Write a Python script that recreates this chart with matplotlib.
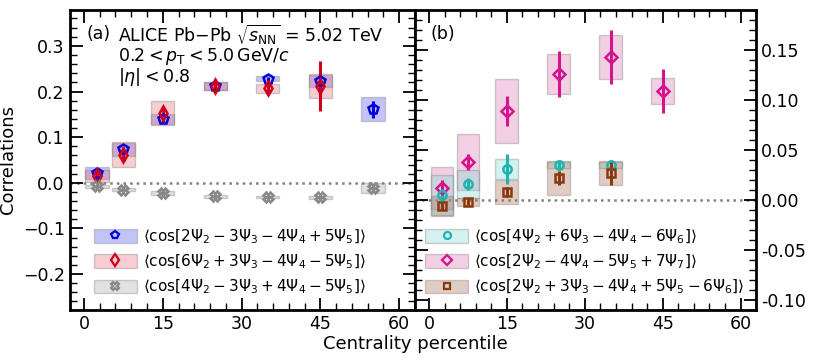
import matplotlib.pyplot as plt
from matplotlib.patches import Rectangle, Patch
from matplotlib.lines import Line2D
from matplotlib.ticker import MultipleLocator

# centrality bins (percentile)
cent_a = [2.5, 7.5, 15, 25, 35, 45, 55]
cent_b = [2.5, 7.5, 15, 25, 35, 45]

# panel (a)
blue_y = [0.022, 0.073, 0.139, 0.212, 0.228, 0.223, 0.161]
blue_stat = [0.006, 0.006, 0.005, 0.004, 0.004, 0.010, 0.018]
blue_sys = [0.013, 0.015, 0.011, 0.009, 0.005, 0.013, 0.026]

red_y = [0.015, 0.062, 0.153, 0.212, 0.207, 0.212]
red_stat = [0.013, 0.013, 0.010, 0.008, 0.011, 0.055]
red_sys = [0.013, 0.027, 0.027, 0.009, 0.010, 0.026]

gray_y = [-0.008, -0.015, -0.023, -0.030, -0.031, -0.032, -0.012]
gray_stat = [0.004, 0.004, 0.004, 0.004, 0.004, 0.004, 0.006]
gray_sys = [0.004, 0.004, 0.004, 0.003, 0.003, 0.003, 0.011]

# panel (b)
teal_y = [0.005, 0.016, 0.031, 0.035, 0.035]
teal_stat = [0.006, 0.006, 0.015, 0.005, 0.005]
teal_sys = [0.020, 0.014, 0.010, 0.003, 0.003]

mag_y = [0.012, 0.038, 0.089, 0.126, 0.143, 0.109]
mag_stat = [0.008, 0.008, 0.015, 0.023, 0.027, 0.022]
mag_sys = [0.021, 0.028, 0.032, 0.020, 0.022, 0.013]

brown_y = [-0.006, -0.002, 0.008, 0.022, 0.027]
brown_stat = [0.004, 0.004, 0.005, 0.007, 0.012]
brown_sys = [0.010, 0.004, 0.012, 0.017, 0.012]

labels_a = [r'$\langle\cos[2\Psi_2-3\Psi_3-4\Psi_4+5\Psi_5]\rangle$',
            r'$\langle\cos[6\Psi_2+3\Psi_3-4\Psi_4-5\Psi_5]\rangle$',
            r'$\langle\cos[4\Psi_2-3\Psi_3+4\Psi_4-5\Psi_5]\rangle$']
labels_b = [r'$\langle\cos[4\Psi_2+6\Psi_3-4\Psi_4-6\Psi_6]\rangle$',
            r'$\langle\cos[2\Psi_2-4\Psi_4-5\Psi_5+7\Psi_7]\rangle$',
            r'$\langle\cos[2\Psi_2+3\Psi_3-4\Psi_4+5\Psi_5-6\Psi_6]\rangle$']

BOX_W = 4.4


def draw(ax, x, y, stat, sys, color, boxcolor, marker, ms=7):
    for xi, yi, si in zip(x, y, sys):
        ax.add_patch(Rectangle((xi - BOX_W / 2, yi - si), BOX_W, 2 * si,
                               facecolor=boxcolor, alpha=0.35,
                               edgecolor='#777777', lw=1.0, zorder=2))
    ax.errorbar(x[:len(y)], y, yerr=stat, fmt=marker, color=color, mfc='none',
                mec=color, mew=1.8, ms=ms, elinewidth=2.2, capsize=0, zorder=4)
    h = (Patch(facecolor=boxcolor, alpha=0.35, edgecolor='#777777'),
         Line2D([], [], marker=marker, color=color, mfc='none', mew=1.6, ms=ms - 1, ls='none'))
    return h


def style(ax):
    for s in ax.spines.values():
        s.set_linewidth(2)
    ax.tick_params(which='both', direction='in', top=True, bottom=True, left=True, right=True)
    ax.tick_params(which='major', length=9, width=1.3, labelsize=12.5)
    ax.tick_params(which='minor', length=5, width=1.0)
    ax.xaxis.set_major_locator(MultipleLocator(15))
    ax.xaxis.set_minor_locator(MultipleLocator(3))
    ax.set_xlim(-2.7, 63)


fig = plt.figure(figsize=(8.3, 3.64), dpi=100)
ax1 = fig.add_axes([0.084, 0.148, 0.416, 0.825])
ax2 = fig.add_axes([0.5, 0.148, 0.411, 0.825])

style(ax1)
ax1.set_ylim(-0.279, 0.379)
ax1.yaxis.set_major_locator(MultipleLocator(0.1))
ax1.yaxis.set_minor_locator(MultipleLocator(0.02))
ax1.axhline(0, color='gray', ls=':', lw=1.8, zorder=1)

h1 = draw(ax1, cent_a, blue_y, blue_stat, blue_sys, '#0000dd', '#5555ee', 'p')
h2 = draw(ax1, cent_a[:6], red_y, red_stat, red_sys, '#d0001c', '#e8707c', 'd')
h3 = draw(ax1, cent_a, gray_y, gray_stat, gray_sys, '#888888', '#aaaaaa', 'X', ms=7)

ax1.legend([h1, h2, h3], labels_a, loc='lower left', bbox_to_anchor=(0.03, 0.0),
           frameon=False, fontsize=11, handlelength=2.8, handleheight=1.0,
           labelspacing=0.45, handletextpad=0.4)
ax1.set_ylabel('Correlations', fontsize=13)

ax1.text(0.05, 0.92, '(a)', transform=ax1.transAxes, fontsize=12.5, va='center')
ax1.text(0.14, 0.915, r'ALICE Pb$-$Pb $\sqrt{s_{\rm NN}}$ = 5.02 TeV',
         transform=ax1.transAxes, fontsize=12.5, va='center')
ax1.text(0.14, 0.845, r'$0.2 < p_{\rm T} < 5.0\,$GeV/$c$',
         transform=ax1.transAxes, fontsize=12.5, va='center')
ax1.text(0.14, 0.775, r'$|\eta| < 0.8$',
         transform=ax1.transAxes, fontsize=12.5, va='center')

style(ax2)
ax2.set_ylim(-0.11, 0.19)
ax2.yaxis.set_major_locator(MultipleLocator(0.05))
ax2.yaxis.set_minor_locator(MultipleLocator(0.01))
ax2.tick_params(labelleft=False, labelright=True)
ax2.yaxis.set_major_formatter(plt.FormatStrFormatter('%.2f'))
ax2.axhline(0, color='gray', ls=':', lw=1.8, zorder=1)

g2 = draw(ax2, cent_b, mag_y, mag_stat, mag_sys, '#d4148c', '#dd77b4', 'D', ms=6)
g1 = draw(ax2, cent_b[:5], teal_y, teal_stat, teal_sys, '#1fb5ae', '#7fd8d2', 'o', ms=6)
g3 = draw(ax2, cent_b[:5], brown_y, brown_stat, brown_sys, '#8b3a0f', '#a5715a', 's', ms=6)

ax2.legend([g1, g2, g3], labels_b, loc='lower left', bbox_to_anchor=(-0.01, 0.0),
           frameon=False, fontsize=11, handlelength=2.8, handleheight=1.0,
           labelspacing=0.45, handletextpad=0.4)
ax2.text(0.045, 0.92, '(b)', transform=ax2.transAxes, fontsize=12.5, va='center')

fig.text(0.5, 0.055, 'Centrality percentile', ha='center', va='center', fontsize=13)

plt.savefig('out.png', dpi=100)
